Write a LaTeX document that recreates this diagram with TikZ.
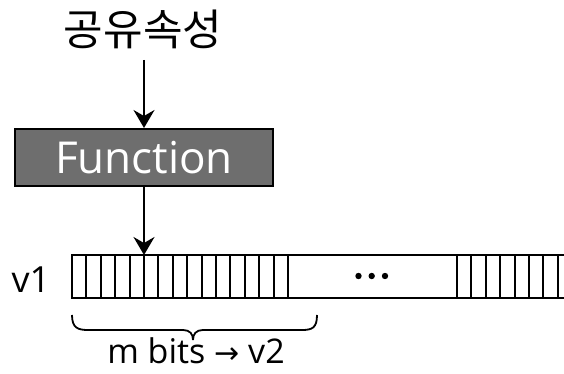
\documentclass[tikz,border=0pt]{standalone}
\usepackage{fontspec}
\setmainfont{Open Sans}
\newfontfamily\krfont{Noto Sans CJK KR}
\newfontfamily\dvfont{DejaVu Sans}
\usetikzlibrary{arrows.meta}
\definecolor{funcgray}{RGB}{110,110,110}
\tikzset{
  conn/.style={line width=2pt, -{Stealth[length=18pt,width=21pt,inset=6pt]}},
  funcbox/.style={draw=black, line width=2pt, fill=funcgray, minimum width=258pt, minimum height=57pt, inner sep=0pt, text=white, font=\fontsize{44}{46}\selectfont},
  celline/.style={line width=2pt},
  barline/.style={line width=2.4pt},
  lbl/.style={inner sep=0pt, font=\fontsize{36}{38}\selectfont},
}
\begin{document}
\begin{tikzpicture}[x=1pt,y=1pt]
\useasboundingbox (0,0) rectangle (564,374);
\node[inner sep=0pt, font=\krfont\fontsize{43}{45}\selectfont] (title) at (143,345) {공유속성};
\node[funcbox] (func) at (144,216.5) {Function};
\coordinate (bartop) at (144,119);
\coordinate (tstart) at (144,314);
\draw[conn] (tstart) -- (func.north);
\draw[conn] (func.south) -- (bartop);
% bar
\foreach \k in {1,...,14} \draw[celline] (72+14.4*\k,76) -- (72+14.4*\k,119);
\draw[celline] (288,76) -- (288,119);
\foreach \k in {0,...,7} \draw[celline] (457+14.4*\k,76) -- (457+14.4*\k,119);
\draw[barline] (564,119) -- (72,119) -- (72,76) -- (564,76);
\foreach \x in {358.5,371.7,385} \fill (\x,98) circle (3.2);
\node[lbl] (v1) at (31,94) {v1};
% brace
\draw[line width=1.8pt] (72,59) .. controls (72,46) and (78,44) .. (88,44) -- (183,44) .. controls (190,44) and (193,40) .. (193,34)
  (193,34) .. controls (193,40) and (196,44) .. (203,44) -- (302,44) .. controls (312,44) and (317,46) .. (317,59);
\node[lbl, anchor=base, font=\fontsize{34}{36}\selectfont] (mbits) at (196,10) {m bits {\dvfont\fontsize{30}{32}\selectfont →} v2};
\end{tikzpicture}
\end{document}
